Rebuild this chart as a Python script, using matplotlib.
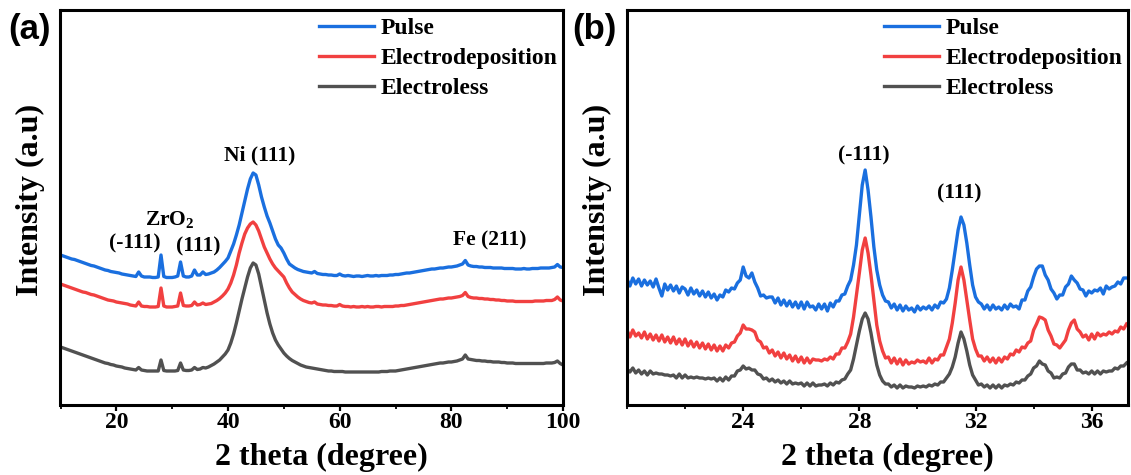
import numpy as np
import matplotlib
matplotlib.use("Agg")
import matplotlib.pyplot as plt
from matplotlib.ticker import MultipleLocator

# ---------------- data ----------------
series_names = ["Pulse", "Electrodeposition", "Electroless"]
series_colors = ["#1A6FDF", "#F14040", "#515151"]

# Panel (a): full scan, 10-100 deg, 0.5 deg step
two_theta_a = np.arange(10.0, 100.01, 0.5)

pulse_a = [
    150, 149, 148, 147, 146, 145.5, 144.5, 143.5, 142.5, 141.5, 140.5, 139.5, 139, 138, 137, 136, 135, 134.5, 133.5, 133,
    132.5, 132, 131, 130.5, 130, 129.5, 129, 128.5, 133, 129, 128, 128, 128, 127.5, 127.5, 128, 150, 128.5, 127.5, 127.5,
    127.5, 128, 129, 143, 129, 128, 128, 129, 135, 130, 130, 133, 130.5, 131, 132, 133, 135, 137.5, 140.5, 143.5,
    147, 154, 161, 170, 180, 192, 204, 216, 226, 232, 230, 220, 208, 198, 189, 182, 174, 166, 160, 157,
    152, 146, 141, 139, 137, 135.5, 134.5, 133.5, 133, 132.5, 132, 133.5, 131.5, 131, 130.5, 130.5, 130, 130, 129.5, 129.5,
    131, 129.5, 129, 129.5, 129, 128.5, 129, 129, 128.5, 129, 129.5, 129, 129, 129.5, 129, 129.5, 129.5, 129.5, 130, 130,
    130.5, 130.5, 131, 131.5, 132, 132, 132.5, 133, 133.5, 134, 134.5, 135, 135.5, 136, 136, 136.5, 137, 137, 137.5, 138,
    138, 138.5, 139, 140, 141, 144.5, 140, 139, 138.5, 138.5, 138, 138, 137.5, 137.5, 137.5, 137, 137, 137, 137, 136.5,
    136.5, 136.5, 136.5, 136, 136, 136, 136.5, 136, 136, 136.5, 136.5, 136.5, 137, 137, 137, 137, 137.5, 138, 140.5, 138,
    137.5,
]

electrodep_a = [
    121, 120, 119, 118, 117, 116, 115, 114, 113, 112.5, 111.5, 110.5, 110, 109, 108, 107, 106, 105, 104.5, 104,
    103, 102.5, 102, 101.5, 101, 100, 99.5, 99, 103, 99, 98.5, 98.5, 98, 98, 98, 98.5, 117, 99, 98, 98,
    98, 98.5, 99, 112, 99.5, 99, 99, 99.5, 103, 100, 100.5, 102, 100.5, 101, 101.5, 103, 104.5, 106.5, 109, 112,
    116, 122, 130, 140, 152, 162, 171, 177, 181, 183, 180, 174, 166, 158, 152, 146, 141, 137, 134, 131,
    128, 122, 117, 113, 110.5, 108, 106, 104.5, 103.5, 102.5, 102, 103, 101, 100.5, 100, 100, 99.5, 99.5, 99, 99,
    100.5, 99, 98.5, 98.5, 98, 98.5, 98, 98, 98.5, 98, 98.5, 98, 98, 98.5, 98.5, 98, 98.5, 98.5, 98.5, 98.5,
    99, 99, 99.5, 99.5, 100, 100.5, 101, 101.5, 102, 102.5, 103, 103.5, 104, 104.5, 105, 105.5, 106, 106, 106.5, 107,
    107, 107.5, 108, 108.5, 109.5, 112.5, 108.5, 107.5, 107, 107, 106.5, 106.5, 106, 106, 105.5, 105.5, 105, 105, 104.5, 104.5,
    104, 104, 104, 103.5, 103.5, 103.5, 103.5, 103.5, 103.5, 103.5, 104, 104, 104, 104, 104.5, 104.5, 104.5, 105.5, 108, 105,
    104,
]

electroless_a = [
    58, 57, 56, 55, 54, 53, 52, 51, 50, 49, 48, 47, 46, 45, 44, 43, 42, 41.5, 40.5, 40,
    39, 38.5, 38, 37, 36.5, 36, 35.5, 35, 37.5, 35, 34.5, 34, 34, 34, 34, 34, 45, 34.5, 34, 34,
    34, 34, 34.5, 42, 35, 34.5, 34.5, 35, 37.5, 35.5, 36, 37.5, 37, 38, 39.5, 41, 43, 45, 48, 51,
    55, 62, 71, 82, 94, 106, 117, 128, 137, 142, 140, 131, 118, 105, 92, 81, 72, 65, 60, 56,
    52, 49, 46.5, 44.5, 43, 41.5, 40, 39, 38, 37.5, 37, 36.5, 36, 35.5, 35, 34.5, 34, 34, 33.5, 33.5,
    33.5, 33.5, 33, 33, 33, 33, 33, 33, 33, 33, 33, 33, 33, 33, 33, 33.5, 33.5, 33.5, 34, 34,
    34, 34.5, 35, 35.5, 36, 36.5, 37, 37.5, 38, 38.5, 39, 39.5, 40, 40.5, 41, 41.5, 42, 42, 42.5, 43,
    43, 43.5, 44, 45, 46, 50, 46, 45.5, 45, 44.5, 44.5, 44, 44, 43.5, 43.5, 43, 43, 43, 42.5, 42.5,
    42, 42, 42, 41.5, 41.5, 41.5, 41.5, 41.5, 41.5, 41.5, 41.5, 41.5, 41.5, 41.5, 42, 42, 42, 42.5, 44, 41.5,
    40,
]

# Panel (b): ZrO2 region, 20-37.2 deg, 0.1 deg step
two_theta_b = np.round(np.arange(20.0, 37.21, 0.1), 1)

pulse_b = [
    126, 119, 127, 121, 126, 119, 125, 120, 124, 118,
    126, 117, 109, 121, 115, 120, 114, 119, 112, 118,
    116, 110, 117, 111, 115, 109, 114, 108, 113, 107,
    111, 105, 110, 108, 115, 113, 117, 116, 122, 125,
    138, 129, 127, 132, 123, 117, 109, 110, 107, 108,
    108, 102, 107, 100, 105, 99, 104, 98, 103, 97,
    103, 96, 103, 98, 99, 95, 101, 96, 101, 94,
    102, 98, 104, 104, 110, 111, 119, 125, 140, 160,
    190, 220, 235, 215, 188, 158, 135, 120, 110, 104,
    103, 97, 101, 95, 100, 94, 99, 95, 97, 93,
    99, 95, 98, 96, 99, 95, 100, 97, 103, 102,
    106, 117, 135, 155, 175, 188, 180, 162, 140, 120,
    108, 103, 101, 96, 100, 95, 100, 96, 98, 95,
    100, 96, 101, 98, 99, 96, 105, 105, 114, 118,
    128, 136, 139, 139, 130, 125, 116, 112, 106, 110,
    110, 118, 121, 129, 125, 122, 116, 115, 109, 114,
    112, 115, 114, 117, 111, 119, 116, 118, 119, 123,
    121, 127, 127,
]

electrodep_b = [
    75, 68, 75, 69, 72, 67, 73, 66, 71, 65,
    70, 64, 70, 63, 68, 62, 68, 61, 66, 60,
    66, 59, 64, 58, 63, 57, 62, 56, 61, 55,
    60, 54, 59, 54, 60, 57, 62, 63, 69, 72,
    80, 76, 76, 75, 73, 65, 63, 57, 58, 52,
    55, 49, 53, 47, 52, 46, 50, 44, 49, 43,
    48, 42, 47, 42, 46, 45, 45, 44, 46, 45,
    48, 46, 51, 51, 57, 57, 63, 71, 88, 110,
    132, 155, 167, 152, 130, 105, 80, 64, 54, 47,
    48, 42, 47, 41, 46, 40, 45, 41, 43, 42,
    45, 43, 44, 42, 47, 42, 46, 45, 50, 50,
    58, 66, 82, 102, 125, 138, 125, 105, 85, 66,
    56, 49, 49, 44, 48, 43, 47, 42, 47, 43,
    48, 46, 51, 50, 55, 53, 58, 57, 62, 64,
    75, 81, 88, 87, 85, 75, 69, 61, 60, 57,
    61, 65, 75, 82, 85, 76, 73, 68, 70, 65,
    71, 66, 72, 69, 71, 70, 73, 71, 74, 73,
    78, 76, 81,
]

electroless_b = [
    36, 33, 37, 32, 35, 31, 34, 30, 34, 31,
    32, 31, 31, 30, 30, 29, 30, 27, 31, 27,
    30, 27, 28, 27, 28, 27, 27, 26, 27, 26,
    27, 24, 27, 24, 28, 25, 29, 29, 34, 35,
    39, 36, 37, 35, 35, 31, 30, 26, 27, 24,
    26, 23, 25, 22, 24, 21, 24, 21, 22, 21,
    22, 19, 22, 19, 22, 19, 20, 20, 21, 19,
    22, 20, 23, 22, 25, 26, 31, 35, 46, 60,
    74, 86, 92, 86, 72, 55, 40, 30, 24, 21,
    21, 18, 20, 17, 20, 17, 19, 18, 18, 17,
    19, 18, 19, 18, 20, 19, 21, 20, 23, 23,
    27, 31, 38, 48, 62, 73, 66, 54, 40, 30,
    25, 20, 21, 18, 20, 17, 20, 17, 20, 17,
    20, 19, 21, 20, 23, 22, 25, 25, 29, 31,
    37, 39, 44, 41, 40, 34, 32, 27, 28, 27,
    31, 32, 38, 41, 41, 35, 35, 32, 33, 31,
    34, 31, 34, 31, 34, 33, 34, 34, 37, 36,
    39, 39, 42,
]

xticks_a = [20, 40, 60, 80, 100]
xticks_b = [24, 28, 32, 36]

# peak labels: (text, x, y)
peak_labels_a = [
    ("Ni (111)", 45.6, 250),
    ("ZrO$_{2}$", 29.5, 186),
    ("(-111)", 23.3, 162),
    ("(111)", 34.7, 159),
    ("Fe (211)", 86.8, 165),
]
peak_labels_b = [
    ("(-111)", 28.15, 250),
    ("(111)", 31.45, 212),
]

# ---------------- style ----------------
serif = "Liberation Serif"
plt.rcParams["font.family"] = serif
plt.rcParams["font.weight"] = "bold"
plt.rcParams["mathtext.fontset"] = "custom"
plt.rcParams["mathtext.rm"] = "Liberation Serif:bold"
plt.rcParams["mathtext.it"] = "Liberation Serif:bold"
plt.rcParams["mathtext.bf"] = "Liberation Serif:bold"

W, H = 1131, 475
fig = plt.figure(figsize=(W / 100, H / 100), dpi=100)

ax_a = fig.add_axes([60.5 / W, (H - 405) / H, (563 - 60.5) / W, 395 / H])
ax_b = fig.add_axes([627 / W, (H - 405) / H, (1128 - 627) / W, 395 / H])

panels = [
    (ax_a, two_theta_a, [pulse_a, electrodep_a, electroless_a], (10, 100), xticks_a, 10, peak_labels_a, "(a)", 29),
    (ax_b, two_theta_b, [pulse_b, electrodep_b, electroless_b], (20, 37.25), xticks_b, 2, peak_labels_b, "(b)", 594),
]

for ax, x, ys, xlim, ticks, minor, labels, tag, tag_x in panels:
    for name, color, y in zip(series_names, series_colors, ys):
        assert len(y) == len(x)
        ax.plot(x, y, color=color, lw=2.4, label=name, solid_joinstyle="round")
    ax.set_xlim(*xlim)
    ax.set_ylim(0, 395)
    ax.set_xticks(ticks)
    ax.xaxis.set_minor_locator(MultipleLocator(minor))
    ax.set_yticks([])
    ax.tick_params(axis="x", which="major", direction="out", length=4, width=1.6,
                   labelsize=17, pad=1)
    ax.tick_params(axis="x", which="minor", direction="out", length=3, width=1.3)
    for lab in ax.get_xticklabels():
        lab.set_fontweight("bold")
    for sp in ax.spines.values():
        sp.set_linewidth(2.2)
    ax.set_xlabel("2 theta (degree)", fontsize=23, fontweight="bold")
    ax.xaxis.set_label_coords(0.52, -0.097)
    ax.set_ylabel("Intensity (a.u)", fontsize=23, fontweight="bold")
    ax.yaxis.set_label_coords(-0.03, 0.52)
    for txt, lx, ly in labels:
        ax.text(lx, ly, txt, ha="center", va="center", fontsize=15.5, fontweight="bold")
    ax.legend(loc="upper right", bbox_to_anchor=(1.012, 1.01), frameon=False,
              prop={"family": serif, "weight": "bold", "size": 17},
              handlelength=2.35, handletextpad=0.25, labelspacing=0.36,
              borderaxespad=0.1)
    fig.text(tag_x / W, 1 - 30 / H, tag, ha="center", va="center",
             fontsize=25, fontweight="bold", family="Liberation Sans")

fig.savefig("out.png", dpi=100)
